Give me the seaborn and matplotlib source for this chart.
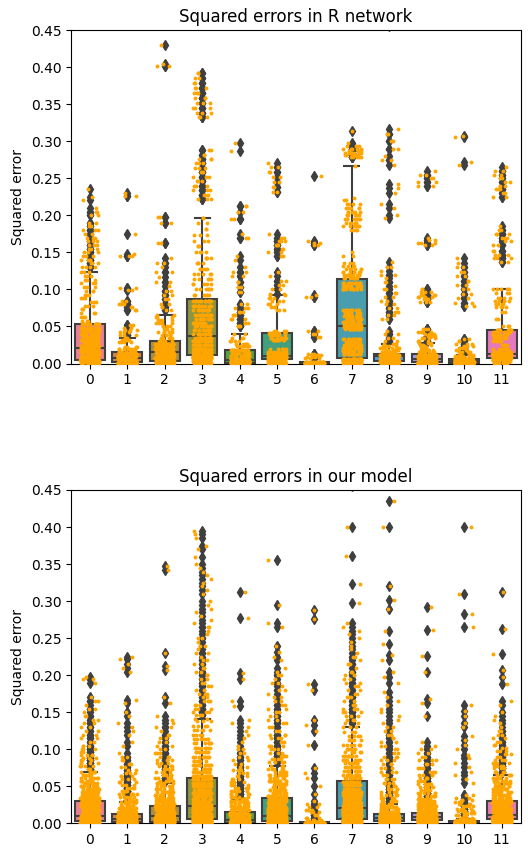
import numpy as np
import pandas as pd
import matplotlib
matplotlib.use("Agg")
import matplotlib.pyplot as plt
import seaborn as sns

np.random.seed(0)

categories = [str(i) for i in range(12)]
titles = ["Squared errors in R network", "Squared errors in our model"]
yticks = [0.00, 0.05, 0.10, 0.15, 0.20, 0.25, 0.30, 0.35, 0.40, 0.45]

# (value, count) pairs -- R network
r0 = [(0.0005, 25), (0.0015, 25), (0.003, 25), (0.0045, 25),
      (0.006, 17), (0.009, 17), (0.012, 17), (0.015, 17), (0.018, 17), (0.021, 17),
      (0.024, 13), (0.028, 13), (0.032, 13), (0.036, 13), (0.040, 12), (0.044, 12), (0.048, 12), (0.053, 12),
      (0.058, 3), (0.063, 3), (0.068, 3), (0.073, 3), (0.078, 3), (0.083, 3), (0.088, 3), (0.093, 3),
      (0.098, 3), (0.103, 3), (0.108, 3), (0.113, 3), (0.118, 3), (0.124, 3),
      (0.13, 4), (0.135, 3), (0.14, 4), (0.145, 3), (0.15, 3), (0.155, 3), (0.16, 3), (0.165, 3), (0.17, 3),
      (0.175, 2), (0.18, 3), (0.185, 2), (0.19, 2), (0.2, 2), (0.205, 2), (0.21, 1), (0.22, 1), (0.225, 1), (0.235, 1)]
r1 = [(0.0002, 30), (0.0007, 33), (0.0015, 20), (0.003, 22), (0.0045, 20), (0.007, 20), (0.01, 22), (0.013, 20),
      (0.016, 10), (0.019, 8), (0.022, 5), (0.029, 4), (0.032, 4), (0.035, 3),
      (0.039, 3), (0.042, 3), (0.045, 3), (0.048, 2), (0.052, 2), (0.072, 2), (0.076, 2), (0.08, 3), (0.084, 2),
      (0.099, 2), (0.102, 2), (0.145, 3), (0.148, 1), (0.175, 1), (0.226, 2), (0.23, 1)]
r2 = [(0.0005, 25), (0.0015, 25), (0.0025, 25), (0.004, 19), (0.007, 19), (0.010, 19), (0.013, 18),
      (0.016, 19), (0.019, 19), (0.022, 19), (0.026, 18),
      (0.031, 6), (0.035, 6), (0.039, 5), (0.043, 5), (0.047, 5), (0.051, 4), (0.055, 4), (0.059, 4), (0.063, 3), (0.066, 2),
      (0.072, 2), (0.076, 2), (0.081, 2), (0.087, 2), (0.093, 2), (0.098, 2), (0.104, 1), (0.11, 2), (0.117, 1),
      (0.123, 2), (0.13, 1), (0.136, 2), (0.142, 1), (0.163, 2), (0.19, 2), (0.198, 2), (0.401, 2), (0.404, 1), (0.43, 1)]
r3 = [(0.001, 30), (0.004, 30), (0.007, 30), (0.009, 30),
      (0.012, 20), (0.016, 20), (0.020, 20), (0.025, 20), (0.030, 20), (0.035, 20),
      (0.040, 14), (0.045, 14), (0.050, 14), (0.055, 13), (0.060, 13), (0.066, 13), (0.072, 13), (0.078, 13), (0.085, 13),
      (0.093, 6), (0.1, 6), (0.107, 5), (0.114, 5), (0.121, 5), (0.128, 5), (0.135, 4), (0.142, 4), (0.15, 4),
      (0.158, 3), (0.166, 3), (0.174, 3), (0.182, 2), (0.19, 2), (0.196, 2),
      (0.222, 3), (0.228, 3), (0.234, 3), (0.24, 3), (0.246, 3), (0.252, 3), (0.258, 3), (0.264, 3), (0.27, 3),
      (0.276, 3), (0.282, 2), (0.288, 2),
      (0.333, 3), (0.338, 3), (0.345, 3), (0.352, 3), (0.358, 3), (0.365, 3), (0.372, 3), (0.378, 2), (0.385, 2), (0.392, 2)]
r4 = [(0.0003, 32), (0.0008, 33), (0.0018, 22), (0.003, 22), (0.0042, 21), (0.006, 17), (0.01, 16), (0.014, 16), (0.018, 16),
      (0.023, 6), (0.027, 5), (0.031, 4), (0.035, 3), (0.04, 2),
      (0.05, 3), (0.055, 3), (0.06, 3), (0.065, 3), (0.07, 3), (0.075, 3), (0.08, 2), (0.097, 2), (0.103, 2), (0.11, 2),
      (0.118, 2), (0.124, 2), (0.13, 1), (0.14, 1), (0.145, 1), (0.17, 2), (0.175, 1), (0.195, 2), (0.205, 2), (0.213, 2),
      (0.287, 1), (0.298, 1)]
r5 = [(0.001, 20), (0.003, 20), (0.005, 20), (0.007, 20), (0.009, 20), (0.0105, 20),
      (0.013, 10), (0.016, 8), (0.019, 6), (0.032, 9), (0.035, 9), (0.038, 9), (0.041, 9),
      (0.044, 4), (0.072, 3), (0.076, 3), (0.08, 3), (0.084, 3), (0.088, 3), (0.092, 2), (0.094, 2),
      (0.1, 2), (0.106, 2), (0.112, 2), (0.118, 1), (0.124, 1), (0.145, 2), (0.15, 2), (0.155, 2), (0.16, 3), (0.165, 3),
      (0.17, 2), (0.175, 1), (0.232, 2), (0.238, 2), (0.245, 2), (0.252, 2), (0.258, 2), (0.265, 2), (0.27, 1)]
r6 = [(0.0001, 40), (0.0004, 40), (0.0008, 30), (0.0015, 20),
      (0.007, 3), (0.009, 4), (0.011, 4), (0.013, 3), (0.036, 2), (0.04, 2), (0.044, 2), (0.09, 2), (0.092, 1),
      (0.16, 2), (0.163, 2), (0.166, 1), (0.253, 1)]
r7 = [(0.001, 31), (0.003, 30), (0.005, 30), (0.0065, 30),
      (0.013, 16), (0.017, 16), (0.021, 16), (0.025, 16), (0.029, 14), (0.033, 12), (0.047, 15), (0.049, 15),
      (0.052, 15), (0.056, 15), (0.06, 14), (0.064, 13), (0.068, 12), (0.072, 10), (0.1, 13), (0.104, 14), (0.108, 14),
      (0.116, 8), (0.12, 8), (0.124, 7), (0.128, 6), (0.132, 4), (0.136, 3), (0.145, 2), (0.15, 1),
      (0.18, 4), (0.185, 6), (0.19, 7), (0.195, 7), (0.2, 7), (0.205, 6), (0.21, 5), (0.215, 4), (0.22, 2), (0.224, 1),
      (0.267, 1),
      (0.278, 5), (0.281, 5), (0.284, 6), (0.287, 6), (0.29, 5), (0.294, 3), (0.298, 1), (0.314, 1)]
r8 = [(0.0005, 43), (0.002, 41), (0.004, 28), (0.006, 28), (0.008, 27), (0.01, 42), (0.012, 42),
      (0.015, 8), (0.018, 7), (0.021, 6), (0.024, 5), (0.026, 4),
      (0.031, 2), (0.035, 2), (0.04, 2), (0.044, 1), (0.06, 2), (0.065, 2), (0.07, 2), (0.075, 2), (0.08, 2),
      (0.085, 2), (0.09, 2), (0.095, 2), (0.1, 2), (0.105, 1), (0.11, 2), (0.115, 1), (0.12, 2), (0.125, 1),
      (0.13, 2), (0.137, 1), (0.197, 1), (0.2, 1), (0.21, 1), (0.215, 1), (0.23, 1), (0.237, 1), (0.242, 1),
      (0.268, 1), (0.275, 2), (0.28, 1), (0.29, 2), (0.3, 2), (0.31, 2), (0.317, 1), (0.455, 1)]
r9 = [(0.0002, 44), (0.0007, 43), (0.002, 29), (0.0035, 29), (0.005, 29), (0.007, 29), (0.0095, 29), (0.012, 29),
      (0.015, 8), (0.018, 6), (0.022, 5), (0.025, 4), (0.028, 3),
      (0.031, 3), (0.034, 4), (0.037, 5), (0.04, 5), (0.043, 4), (0.046, 3), (0.083, 3), (0.087, 4), (0.09, 4),
      (0.093, 4), (0.097, 3), (0.1, 2), (0.16, 2), (0.163, 3), (0.167, 2), (0.17, 1),
      (0.24, 2), (0.245, 2), (0.25, 2), (0.255, 2), (0.26, 1)]
r10 = [(0.0003, 36), (0.0008, 36), (0.0015, 24), (0.002, 24), (0.0025, 24), (0.0035, 24), (0.0045, 24), (0.0058, 24),
       (0.008, 10), (0.01, 8), (0.012, 6),
       (0.015, 4), (0.018, 4), (0.021, 4), (0.024, 3), (0.027, 3), (0.03, 2), (0.033, 2),
       (0.077, 2), (0.082, 2), (0.088, 2), (0.094, 2), (0.1, 2), (0.106, 2), (0.112, 2), (0.118, 2), (0.124, 2),
       (0.13, 2), (0.136, 1), (0.142, 1), (0.268, 1), (0.272, 1), (0.305, 1), (0.307, 1)]
r11 = [(0.001, 19), (0.003, 19), (0.005, 19), (0.007, 19), (0.009, 25), (0.011, 25), (0.013, 26),
       (0.016, 10), (0.02, 8), (0.025, 6), (0.03, 6), (0.035, 12), (0.039, 12), (0.042, 11), (0.045, 11),
       (0.05, 3), (0.06, 2), (0.07, 2), (0.076, 4), (0.08, 5), (0.084, 5), (0.088, 4), (0.095, 3), (0.1, 5),
       (0.137, 2), (0.142, 3), (0.147, 3), (0.152, 2), (0.16, 2), (0.165, 2), (0.17, 3), (0.175, 3), (0.18, 2),
       (0.185, 1), (0.225, 2), (0.23, 2), (0.235, 3), (0.24, 2), (0.245, 2), (0.25, 2), (0.255, 2), (0.26, 2), (0.265, 1)]

# (value, count) pairs -- our model
m0 = [(0.0003, 52), (0.0012, 51), (0.0022, 51),
      (0.0035, 39), (0.0055, 39), (0.0075, 38), (0.0095, 38),
      (0.012, 22), (0.015, 22), (0.018, 22), (0.021, 22), (0.024, 22), (0.027, 22), (0.03, 22),
      (0.034, 14), (0.038, 13), (0.042, 12), (0.046, 11), (0.05, 10), (0.054, 9), (0.058, 8), (0.062, 7),
      (0.066, 6), (0.07, 5), (0.074, 3),
      (0.077, 4), (0.081, 4), (0.085, 4), (0.089, 4), (0.093, 4), (0.097, 3), (0.101, 3), (0.105, 3),
      (0.11, 2), (0.115, 2), (0.12, 2), (0.125, 2), (0.13, 2), (0.135, 2), (0.14, 2), (0.145, 2),
      (0.15, 1), (0.155, 2), (0.16, 1), (0.165, 2), (0.17, 1), (0.19, 1), (0.195, 2), (0.198, 1)]
m1 = [(0.0002, 63), (0.0007, 62), (0.002, 42), (0.0035, 42), (0.005, 41), (0.007, 42), (0.0095, 42), (0.012, 41),
      (0.015, 12), (0.018, 11), (0.021, 10), (0.024, 9), (0.027, 8), (0.029, 6),
      (0.032, 6), (0.036, 6), (0.04, 6), (0.044, 5), (0.048, 4), (0.052, 4), (0.056, 3), (0.06, 3), (0.064, 3),
      (0.068, 3), (0.072, 2), (0.076, 2), (0.08, 2), (0.085, 2), (0.09, 2), (0.095, 1), (0.104, 1), (0.11, 1),
      (0.12, 1), (0.125, 1), (0.13, 1), (0.135, 1), (0.145, 1), (0.15, 1), (0.163, 1), (0.166, 1),
      (0.205, 1), (0.21, 1), (0.215, 1), (0.222, 1), (0.225, 1)]
m2 = [(0.0003, 48), (0.001, 48), (0.0017, 49), (0.003, 37), (0.005, 36), (0.007, 36), (0.009, 36),
      (0.011, 29), (0.014, 29), (0.017, 29), (0.02, 29), (0.023, 29),
      (0.026, 14), (0.03, 13), (0.034, 12), (0.038, 11), (0.042, 10), (0.046, 9), (0.05, 8), (0.054, 6),
      (0.058, 5), (0.062, 5), (0.066, 5), (0.07, 4), (0.074, 4), (0.078, 4), (0.082, 3), (0.086, 3), (0.09, 3),
      (0.095, 3), (0.1, 2), (0.105, 2), (0.11, 2), (0.115, 2), (0.12, 2), (0.125, 1), (0.13, 2), (0.135, 1),
      (0.14, 1), (0.145, 1), (0.162, 1), (0.17, 1), (0.207, 1), (0.213, 1), (0.23, 1), (0.342, 1), (0.347, 1)]
m3 = [(0.0005, 48), (0.002, 48), (0.0035, 47), (0.005, 47),
      (0.007, 32), (0.010, 32), (0.013, 32), (0.016, 32), (0.019, 31), (0.022, 31),
      (0.025, 22), (0.029, 22), (0.033, 21), (0.037, 21), (0.041, 21), (0.045, 21), (0.05, 21), (0.055, 21), (0.06, 20),
      (0.064, 14), (0.069, 13), (0.074, 12), (0.079, 11), (0.084, 10), (0.09, 9), (0.096, 8), (0.102, 8),
      (0.108, 7), (0.114, 6), (0.12, 5), (0.126, 5), (0.132, 4), (0.138, 3), (0.141, 2),
      (0.146, 3), (0.15, 3), (0.155, 3), (0.16, 3), (0.165, 3), (0.17, 2), (0.175, 3), (0.18, 2), (0.185, 2),
      (0.19, 2), (0.195, 2), (0.2, 2), (0.205, 2), (0.21, 2), (0.215, 2), (0.22, 2), (0.225, 1), (0.23, 2),
      (0.235, 1), (0.24, 2), (0.245, 1), (0.25, 2), (0.255, 1), (0.26, 1), (0.265, 2), (0.27, 1), (0.275, 1),
      (0.28, 1), (0.285, 1), (0.29, 1), (0.295, 1), (0.3, 1), (0.31, 1), (0.315, 1), (0.32, 1), (0.325, 1),
      (0.33, 1), (0.335, 1), (0.34, 1), (0.345, 1), (0.35, 1), (0.36, 1), (0.37, 1), (0.375, 1), (0.385, 1),
      (0.39, 1), (0.395, 1)]
m4 = [(0.0002, 61), (0.0007, 61), (0.0015, 41), (0.0025, 41), (0.0033, 40),
      (0.005, 31), (0.008, 31), (0.011, 30), (0.014, 30),
      (0.018, 12), (0.021, 11), (0.024, 10), (0.027, 9), (0.03, 8), (0.033, 7), (0.036, 5),
      (0.04, 5), (0.044, 5), (0.048, 4), (0.052, 4), (0.056, 4), (0.06, 3), (0.064, 3), (0.068, 3), (0.072, 3),
      (0.076, 2), (0.08, 2), (0.085, 2), (0.09, 2), (0.095, 2), (0.1, 2), (0.105, 1), (0.11, 1), (0.115, 1),
      (0.12, 1), (0.125, 1), (0.13, 1), (0.135, 1), (0.14, 1), (0.158, 1), (0.165, 1), (0.195, 1), (0.203, 1),
      (0.277, 1), (0.312, 1)]
m5 = [(0.0003, 56), (0.0012, 56), (0.0022, 56), (0.0035, 42), (0.0055, 42), (0.0075, 42), (0.0095, 42),
      (0.012, 21), (0.015, 21), (0.018, 21), (0.021, 21), (0.024, 21), (0.027, 21), (0.03, 21), (0.033, 21),
      (0.037, 14), (0.041, 13), (0.045, 12), (0.049, 11), (0.053, 10), (0.057, 9), (0.061, 8), (0.065, 7),
      (0.069, 6), (0.073, 5), (0.078, 4),
      (0.083, 4), (0.087, 4), (0.091, 4), (0.095, 3), (0.1, 3), (0.105, 3), (0.11, 3), (0.115, 3), (0.12, 3),
      (0.125, 2), (0.13, 2), (0.135, 2), (0.14, 2), (0.145, 2), (0.15, 2), (0.155, 2), (0.16, 2), (0.165, 2),
      (0.17, 2), (0.175, 1), (0.18, 2), (0.185, 1), (0.19, 2), (0.195, 1), (0.2, 2), (0.205, 1), (0.21, 1),
      (0.22, 1), (0.225, 1), (0.232, 1), (0.24, 1), (0.265, 1), (0.27, 1), (0.295, 1), (0.356, 1)]
m6 = [(0.0001, 40), (0.0004, 40), (0.0008, 30), (0.0015, 20),
      (0.005, 4), (0.008, 3), (0.012, 3), (0.015, 3), (0.018, 3), (0.022, 2), (0.026, 2), (0.03, 1), (0.04, 1),
      (0.05, 1), (0.062, 1), (0.068, 1), (0.075, 1), (0.106, 1), (0.125, 1), (0.133, 1), (0.14, 1), (0.18, 1),
      (0.188, 1), (0.276, 1), (0.288, 1)]
m7 = [(0.0005, 40), (0.0015, 40), (0.0027, 40), (0.004, 39),
      (0.006, 32), (0.009, 32), (0.012, 32), (0.016, 32), (0.02, 31),
      (0.023, 18), (0.027, 18), (0.031, 18), (0.035, 18), (0.039, 18), (0.043, 18), (0.047, 17), (0.052, 17), (0.056, 17),
      (0.061, 12), (0.066, 11), (0.071, 10), (0.076, 10), (0.081, 9), (0.086, 8), (0.091, 8), (0.096, 7),
      (0.101, 6), (0.106, 6), (0.112, 5), (0.118, 4), (0.124, 4), (0.13, 3), (0.135, 2),
      (0.14, 3), (0.145, 3), (0.15, 3), (0.155, 3), (0.16, 3), (0.165, 2), (0.17, 3), (0.175, 2), (0.18, 2),
      (0.185, 2), (0.19, 2), (0.195, 2), (0.2, 2), (0.205, 2), (0.21, 1), (0.215, 2), (0.22, 1), (0.225, 2),
      (0.23, 1), (0.235, 1), (0.24, 1), (0.245, 1), (0.25, 1), (0.255, 1), (0.26, 1), (0.265, 1), (0.27, 1),
      (0.297, 1), (0.323, 1), (0.361, 1), (0.4, 1), (0.455, 1)]
m8 = [(0.0004, 53), (0.0013, 52), (0.0022, 52), (0.0035, 53), (0.005, 52), (0.0063, 52),
      (0.0075, 53), (0.009, 52), (0.0105, 52),
      (0.013, 20), (0.016, 16), (0.019, 12), (0.022, 8), (0.024, 4),
      (0.026, 6), (0.03, 6), (0.034, 5), (0.038, 5), (0.042, 5), (0.046, 4), (0.05, 4), (0.055, 4), (0.06, 4),
      (0.065, 3), (0.07, 3), (0.075, 3), (0.08, 3), (0.085, 3), (0.09, 3), (0.095, 2), (0.1, 2), (0.105, 2),
      (0.11, 2), (0.115, 2), (0.12, 2), (0.125, 2), (0.13, 2), (0.135, 1), (0.14, 1), (0.145, 1), (0.15, 1),
      (0.155, 1), (0.16, 1), (0.165, 1), (0.17, 1), (0.178, 1), (0.19, 1), (0.197, 1), (0.205, 1), (0.22, 1),
      (0.228, 1), (0.242, 1), (0.26, 1), (0.29, 1), (0.302, 1), (0.321, 1), (0.4, 1), (0.435, 1)]
m9 = [(0.0005, 38), (0.0015, 38), (0.0025, 38), (0.0034, 37), (0.0045, 51), (0.006, 50), (0.0075, 50),
      (0.009, 38), (0.011, 38), (0.0125, 38), (0.014, 37),
      (0.017, 18), (0.02, 16), (0.023, 14), (0.026, 12), (0.029, 10), (0.031, 6),
      (0.033, 7), (0.037, 7), (0.041, 6), (0.045, 6), (0.049, 5), (0.053, 5), (0.057, 4), (0.061, 4), (0.065, 4),
      (0.07, 3), (0.075, 3), (0.08, 3), (0.085, 3), (0.09, 2), (0.095, 2), (0.1, 2), (0.105, 1), (0.11, 1),
      (0.145, 1), (0.162, 1), (0.168, 1), (0.204, 1), (0.226, 1), (0.261, 1), (0.292, 1)]
m10 = [(0.0001, 60), (0.0005, 60), (0.001, 55), (0.002, 50), (0.003, 40), (0.005, 10), (0.0065, 8),
       (0.008, 5), (0.011, 5), (0.014, 5), (0.017, 5), (0.02, 5), (0.023, 4), (0.026, 4), (0.029, 3), (0.032, 3),
       (0.035, 2), (0.038, 2), (0.054, 1), (0.06, 1), (0.066, 1), (0.07, 1), (0.076, 1), (0.082, 1), (0.088, 1),
       (0.092, 1), (0.1, 1), (0.106, 1), (0.112, 1), (0.118, 1), (0.13, 1), (0.136, 1), (0.145, 1), (0.152, 1),
       (0.16, 1), (0.265, 1), (0.283, 1), (0.31, 1), (0.4, 1)]
m11 = [(0.0005, 36), (0.002, 36), (0.0035, 36), (0.005, 35), (0.0065, 48), (0.0082, 48), (0.0098, 47),
       (0.012, 21), (0.015, 21), (0.018, 21), (0.021, 20), (0.024, 20), (0.027, 20), (0.03, 20),
       (0.034, 14), (0.038, 13), (0.042, 12), (0.046, 11), (0.05, 10), (0.054, 9), (0.058, 8), (0.062, 7),
       (0.066, 6), (0.07, 5), (0.075, 3),
       (0.078, 4), (0.082, 4), (0.086, 3), (0.09, 3), (0.094, 3), (0.098, 3), (0.102, 2), (0.106, 2), (0.11, 2),
       (0.115, 2), (0.12, 2), (0.125, 2), (0.13, 1), (0.135, 1), (0.14, 1), (0.145, 1), (0.15, 1), (0.16, 1),
       (0.165, 1), (0.188, 1), (0.197, 1), (0.207, 1), (0.229, 1), (0.263, 1), (0.313, 1)]

r_groups = [r0, r1, r2, r3, r4, r5, r6, r7, r8, r9, r10, r11]
m_groups = [m0, m1, m2, m3, m4, m5, m6, m7, m8, m9, m10, m11]


def expand(groups):
    rows = []
    for cat, pairs in zip(categories, groups):
        for v, c in pairs:
            rows.extend([(cat, v)] * c)
    return pd.DataFrame(rows, columns=["category", "error"])


frames = [expand(r_groups), expand(m_groups)]

fig = plt.figure(figsize=(5.28, 8.48), dpi=100)
ax_top = fig.add_axes([0.1345, 0.5713, 0.8513, 0.3933])
ax_bot = fig.add_axes([0.1345, 0.0289, 0.8513, 0.3933])

pal = sns.husl_palette(12)
line_c = "#3f3f3f"

for ax, df, title in zip([ax_top, ax_bot], frames, titles):
    sns.boxplot(data=df, x="category", y="error", hue="category",
                order=categories, hue_order=categories, palette=pal,
                legend=False, saturation=0.75, linecolor=line_c, linewidth=1.5,
                fliersize=5,
                flierprops=dict(marker="d", markerfacecolor=line_c,
                                markeredgecolor=line_c),
                ax=ax)
    sns.stripplot(data=df, x="category", y="error", order=categories,
                  color="orange", size=2.8, jitter=0.25, ax=ax)
    ax.set_ylim(0, 0.45)
    ax.set_yticks(yticks)
    ax.set_yticklabels([f"{t:.2f}" for t in yticks])
    ax.set_title(title, fontsize=12)
    ax.set_xlabel("")
    ax.set_ylabel("Squared error", fontsize=10)

fig.savefig("out.png", dpi=100)
